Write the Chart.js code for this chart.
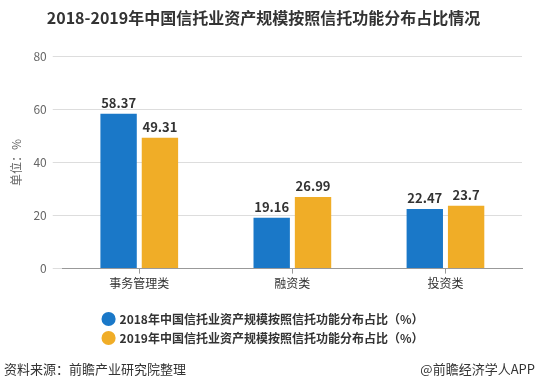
<!DOCTYPE html>
<html><head><meta charset="utf-8">
<script src="https://cdn.jsdelivr.net/npm/chart.js@4.4.0/dist/chart.umd.min.js"></script>
<style>html,body{margin:0;padding:0;background:#fff;}#wrap{width:538px;height:389px;position:relative;}</style>
</head><body><div id="wrap"><canvas id="c"></canvas></div>
<script>
const categories = ['事务管理类', '融资类', '投资类'];
const series2018 = [58.37, 19.16, 22.47];
const series2019 = [49.31, 26.99, 23.7];
const seriesNames = ['2018年中国信托业资产规模按照信托功能分布占比（%）', '2019年中国信托业资产规模按照信托功能分布占比（%）'];
const yTicks = [0, 20, 40, 60, 80];
const FONT = '"Noto Sans CJK SC", "Noto Sans", sans-serif';

const labelPlugin = {
  id: 'labels',
  afterDatasetsDraw(chart) {
    const ctx = chart.ctx;
    ctx.save();
    ctx.font = 'bold 13px ' + FONT;
    ctx.fillStyle = '#333';
    ctx.textAlign = 'center';
    ctx.textBaseline = 'bottom';
    chart.data.datasets.forEach((ds, i) => {
      chart.getDatasetMeta(i).data.forEach((bar, j) => {
        ctx.fillText(String(ds.data[j]), bar.x, bar.y - 4);
      });
    });
    ctx.restore();
  }
};
const footerPlugin = {
  id: 'footer',
  afterDraw(chart) {
    const ctx = chart.ctx;
    ctx.save();
    ctx.font = '13px ' + FONT;
    ctx.fillStyle = '#333';
    ctx.textBaseline = 'middle';
    ctx.textAlign = 'left';
    ctx.fillText('资料来源：前瞻产业研究院整理', 4, 369);
    ctx.textAlign = 'right';
    ctx.fillText('@前瞻经济学人APP', 535, 369);
    ctx.restore();
  }
};

new Chart(document.getElementById('c'), {
  type: 'bar',
  data: {
    labels: categories,
    datasets: [
      { label: seriesNames[0], data: series2018, backgroundColor: '#1a78c8', barPercentage: 0.88, categoryPercentage: 0.54 },
      { label: seriesNames[1], data: series2019, backgroundColor: '#f0ad27', barPercentage: 0.88, categoryPercentage: 0.54 }
    ]
  },
  options: {
    responsive: true,
    maintainAspectRatio: false,
    animation: false,
    layout: { padding: { left: 5, right: 16, top: 0, bottom: 35 } },
    plugins: {
      title: { display: true, text: '2018-2019年中国信托业资产规模按照信托功能分布占比情况', color: '#333', font: { size: 16, weight: 'bold', family: FONT }, padding: { top: 8, bottom: 29 } },
      legend: { position: 'bottom', labels: { usePointStyle: true, pointStyle: 'circle', boxWidth: 10, boxHeight: 10, color: '#333', font: { size: 12, weight: 'bold', family: FONT }, padding: 7 } },
      tooltip: { enabled: false }
    },
    scales: {
      x: {
        grid: { display: true, drawOnChartArea: false, drawTicks: true, tickLength: 5, color: '#999', offset: false },
        border: { display: true, color: '#999' },
        ticks: { color: '#333', font: { size: 12, family: FONT }, padding: 3 },
        afterFit(axis) { axis.height += 12; }
      },
      y: {
        min: 0, max: 80,
        afterBuildTicks(axis) { axis.ticks = yTicks.map(v => ({ value: v })); },
        grid: { color: '#dddddd', tickLength: 10 },
        border: { display: false },
        ticks: { color: '#666', font: { size: 12, family: FONT }, padding: 6 },
        title: { display: true, text: '单位：%', color: '#666', font: { size: 12, family: FONT }, padding: 4 }
      }
    }
  },
  plugins: [labelPlugin, footerPlugin]
});
</script></body></html>
